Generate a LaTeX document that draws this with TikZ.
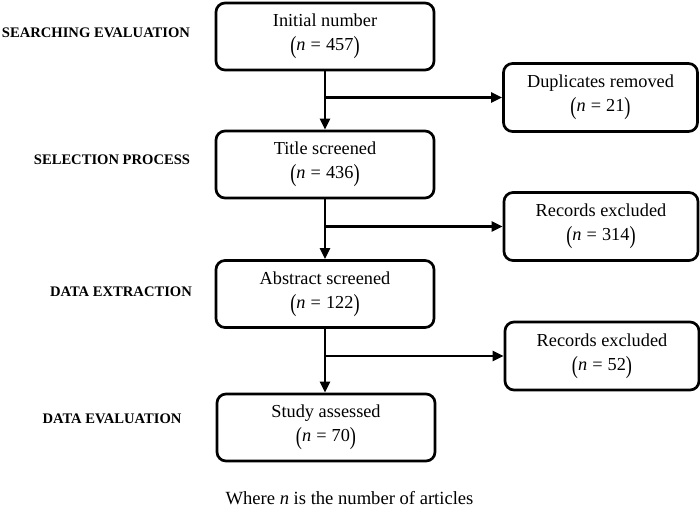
\documentclass[tikz,border=0pt]{standalone}
\usepackage{fontspec}
\setmainfont{Liberation Serif}
\usetikzlibrary{arrows.meta}
\newcommand{\bp}[1]{\raisebox{-0.14em}{\scalebox{1}[1.35]{#1}}}
\newcommand{\nv}[1]{\bp{(}\textit{n}\;=\;#1\bp{)}}
\begin{document}
\begin{tikzpicture}[x=1pt,y=-1pt,
  box/.style={draw, line width=2.7pt, rounded corners=9pt, align=center,
    inner sep=0pt, font=\fontsize{18.3}{24}\selectfont},
  mainbox/.style={box, minimum width=218pt, minimum height=67pt},
  sidebox/.style={box, minimum width=194pt, minimum height=68pt},
  stage/.style={font=\fontsize{14.6}{16}\selectfont\bfseries},
  arr/.style={line width=2.2pt, -{Triangle[length=11pt,width=10pt]}}]
\useasboundingbox (0,0) rectangle (700,509);
\node[mainbox] (b1) at (325,36.5) {Initial number\\\nv{457}};
\node[mainbox] (b2) at (325,164.5) {Title screened\\\nv{436}};
\node[mainbox] (b3) at (325,294) {Abstract screened\\\nv{122}};
\node[mainbox] (b4) at (326,427.5) {Study assessed\\\nv{70}};
\node[sidebox] (d) at (600.5,97.5) {Duplicates removed\\\nv{21}};
\node[sidebox] (r1) at (601,226.5) {Records excluded\\\nv{314}};
\node[sidebox] (r2) at (602,356) {Records excluded\\\nv{52}};
\node[stage] (s1) at (96,33) {SEARCHING EVALUATION};
\node[stage] (s2) at (112,160) {SELECTION PROCESS};
\node[stage] (s3) at (121,292) {DATA EXTRACTION};
\node[stage] (s4) at (112,419) {DATA EVALUATION};
\node[font=\fontsize{18.6}{20}\selectfont, anchor=base] (fn) at (349.5,504) {Where \textit{n} is the number of articles};
\draw[arr] (b1.south) -- (b2.north);
\draw[arr] (b2.south) -- (b3.north);
\draw[arr] (b3.south) -- (b4.north -| b3.south);
\draw[arr] (b1.south |- d.west) -- (d.west);
\draw[arr] (b2.south |- r1.west) -- (r1.west);
\draw[arr] (b3.south |- r2.west) -- (r2.west);
\end{tikzpicture}
\end{document}
